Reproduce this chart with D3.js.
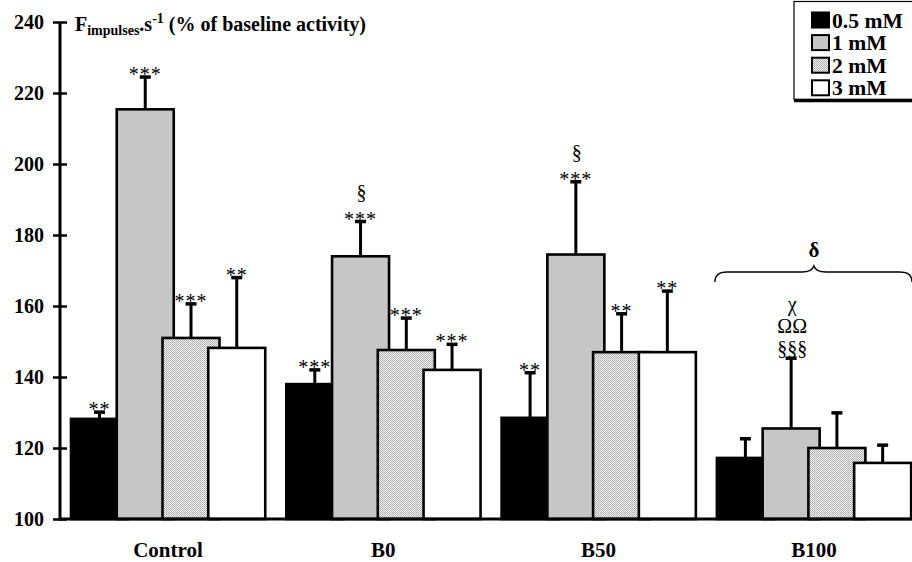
<!DOCTYPE html>
<html><head><meta charset="utf-8">
<script src="https://cdn.jsdelivr.net/npm/d3@7"></script>
<style>
html,body{margin:0;padding:0;background:#fff;}
svg{display:block;}
</style></head>
<body>
<script>
const categories = ["Control", "B0", "B50", "B100"];
const series = ["0.5 mM", "1 mM", "2 mM", "3 mM"];
const values = {
  "0.5 mM": [128.2, 138.0, 128.5, 117.2],
  "1 mM":   [215.4, 174.0, 174.5, 125.5],
  "2 mM":   [151.0, 147.6, 147.0, 120.0],
  "3 mM":   [148.2, 142.0, 147.0, 115.8]
};
const errors = {
  "0.5 mM": [130.1, 142.0, 141.2, 122.6],
  "1 mM":   [224.5, 183.8, 195.0, 145.3],
  "2 mM":   [160.6, 156.6, 157.8, 129.9],
  "3 mM":   [168.0, 149.2, 164.2, 120.8]
};
const stars = {
  "0.5 mM": ["**", "***", "**", ""],
  "1 mM":   ["***", "***", "***", ""],
  "2 mM":   ["***", "***", "**", ""],
  "3 mM":   ["**", "***", "**", ""]
};
const extraMarks = {
  "1 mM": [[], ["§"], ["§"], ["§§§", "ΩΩ", "χ"]]
};
const yTicks = [100, 120, 140, 160, 180, 200, 220, 240];
const bracketGroup = "B100";
const bracketLabel = "δ";

const FONT = '"Liberation Serif"';
const W = 912, H = 562;
const svg = d3.select("body").append("svg").attr("width", W).attr("height", H);
const defs = svg.append("defs");
const pat = defs.append("pattern").attr("id", "dots").attr("patternUnits", "userSpaceOnUse")
  .attr("width", 2).attr("height", 2);
pat.append("rect").attr("width", 2).attr("height", 2).attr("fill", "#f2f2f2");
pat.append("rect").attr("x", 0).attr("y", 0).attr("width", 1).attr("height", 1).attr("fill", "#a8a8a8");
pat.append("rect").attr("x", 1).attr("y", 1).attr("width", 1).attr("height", 1).attr("fill", "#b8b8b8");

const fills = {"0.5 mM": "#000", "1 mM": "#c6c6c6", "2 mM": "url(#dots)", "3 mM": "#fff"};

const axisX = 60;
const y = d3.scaleLinear().domain([100, 240]).range([519, 22]);
const x0 = d3.scaleBand().domain(categories).range([71, 71 + 4 * 215.3]).paddingInner(0).paddingOuter(0);
const x1 = d3.scaleBand().domain(series).range([0, 183]);
const barW = 57;

const g = svg.append("g");
categories.forEach((c, ci) => {
  series.forEach((s) => {
    const bx = x0(c) + x1(s);
    const v = values[s][ci], e = errors[s][ci];
    const cx = bx + barW / 2;
    g.append("line").attr("x1", cx).attr("x2", cx).attr("y1", y(v)).attr("y2", y(e))
      .attr("stroke", "#000").attr("stroke-width", 3);
    g.append("line").attr("x1", cx - 5.5).attr("x2", cx + 5.5).attr("y1", y(e)).attr("y2", y(e))
      .attr("stroke", "#000").attr("stroke-width", 3.5);
    g.append("rect").attr("x", bx).attr("y", y(v)).attr("width", barW).attr("height", y(100) - y(v))
      .attr("fill", fills[s]).attr("stroke", "#000").attr("stroke-width", 2.6);
  });
});
categories.forEach((c, ci) => {
  series.forEach((s) => {
    const bx = x0(c) + x1(s);
    const cx = bx + barW / 2;
    const e = errors[s][ci];
    let top = y(e);
    if (stars[s][ci]) {
      g.append("text").attr("x", cx).attr("y", top + 4).attr("text-anchor", "middle")
        .style("font-family", FONT).style("font-size", "20px").attr("letter-spacing", 1).text(stars[s][ci]);
      top -= 20;
    }
    const ex = (extraMarks[s] || [])[ci] || [];
    ex.forEach((m) => {
      g.append("text").attr("x", cx + 1).attr("y", top - 3).attr("text-anchor", "middle")
        .style("font-family", FONT).style("font-size", "20px").text(m);
      top -= 22;
    });
  });
});

// bracket
{
  const bl = x0(bracketGroup) - 2, br = W;
  const mid = x0(bracketGroup) + 97;
  const yb = 272;
  const p = d3.path();
  p.moveTo(bl, yb + 10);
  p.quadraticCurveTo(bl, yb, bl + 12, yb);
  p.lineTo(mid - 12, yb);
  p.quadraticCurveTo(mid - 2, yb, mid, yb - 6);
  p.quadraticCurveTo(mid + 2, yb, mid + 12, yb);
  p.lineTo(br - 12, yb);
  p.quadraticCurveTo(br, yb, br, yb + 10);
  svg.append("path").attr("d", p.toString()).attr("fill", "none").attr("stroke", "#000").attr("stroke-width", 1.4);
  svg.append("text").attr("x", mid).attr("y", 257).attr("text-anchor", "middle")
    .style("font-family", FONT).style("font-size", "21px").style("font-weight", "bold").text(bracketLabel);
}

// axes
const yAxis = d3.axisLeft(y).tickValues(yTicks).tickSize(0).tickPadding(16).tickFormat(d3.format("d"));
const ya = svg.append("g").attr("transform", `translate(${axisX},0)`).call(yAxis);
ya.select(".domain").remove();
ya.selectAll(".tick text").style("font-family", FONT).style("font-size", "20px").style("font-weight", "bold")
  .attr("fill", "#000").attr("dy", "0.34em");
ya.selectAll(".tick").append("line").attr("x1", -7).attr("x2", 7).attr("stroke", "#000").attr("stroke-width", 2.5);
svg.append("line").attr("x1", axisX).attr("x2", axisX).attr("y1", y(240)).attr("y2", y(100) + 1.5)
  .attr("stroke", "#000").attr("stroke-width", 3);
svg.append("line").attr("x1", axisX - 1.5).attr("x2", W).attr("y1", y(100)).attr("y2", y(100))
  .attr("stroke", "#000").attr("stroke-width", 3);

// x labels
const xAxis = d3.axisBottom(x0).tickSize(0).tickPadding(0);
const xa = svg.append("g").attr("transform", `translate(${97 - 215.3 / 2},${y(100)})`).call(xAxis);
xa.select(".domain").remove();
xa.selectAll(".tick text").style("font-family", FONT).style("font-size", "21px").style("font-weight", "bold")
  .attr("fill", "#000").attr("dy", 0).attr("y", 38);

// title
const t = svg.append("text").attr("x", 75).attr("y", 31)
  .style("font-family", FONT).style("font-size", "20px").style("font-weight", "bold");
t.append("tspan").text("F");
t.append("tspan").style("font-size", "14px").attr("dy", 4).text("impulses");
t.append("tspan").attr("dy", -4).text(".s");
t.append("tspan").style("font-size", "14px").attr("dy", -8).text("-1");
t.append("tspan").attr("dy", 8).text(" (% of baseline activity)");

// legend
const lg = svg.append("g");
lg.append("rect").attr("x", 794).attr("y", 1.5).attr("width", 125).attr("height", 98)
  .attr("fill", "#fff").attr("stroke", "#000").attr("stroke-width", 1.2);
lg.append("line").attr("x1", 794).attr("x2", W).attr("y1", 100.5).attr("y2", 100.5).attr("stroke", "#000").attr("stroke-width", 3.5);
series.forEach((s, i) => {
  const base = 27.5 + i * 22.6;
  lg.append("rect").attr("x", 812).attr("y", base - 15).attr("width", 17).attr("height", 15)
    .attr("fill", fills[s]).attr("stroke", "#000").attr("stroke-width", 2);
  lg.append("text").attr("transform", `translate(832,${base}) scale(1.14,1.08)`)
    .style("font-family", FONT).style("font-size", "19px").style("font-weight", "bold").text(s);
});
</script>
</body></html>
